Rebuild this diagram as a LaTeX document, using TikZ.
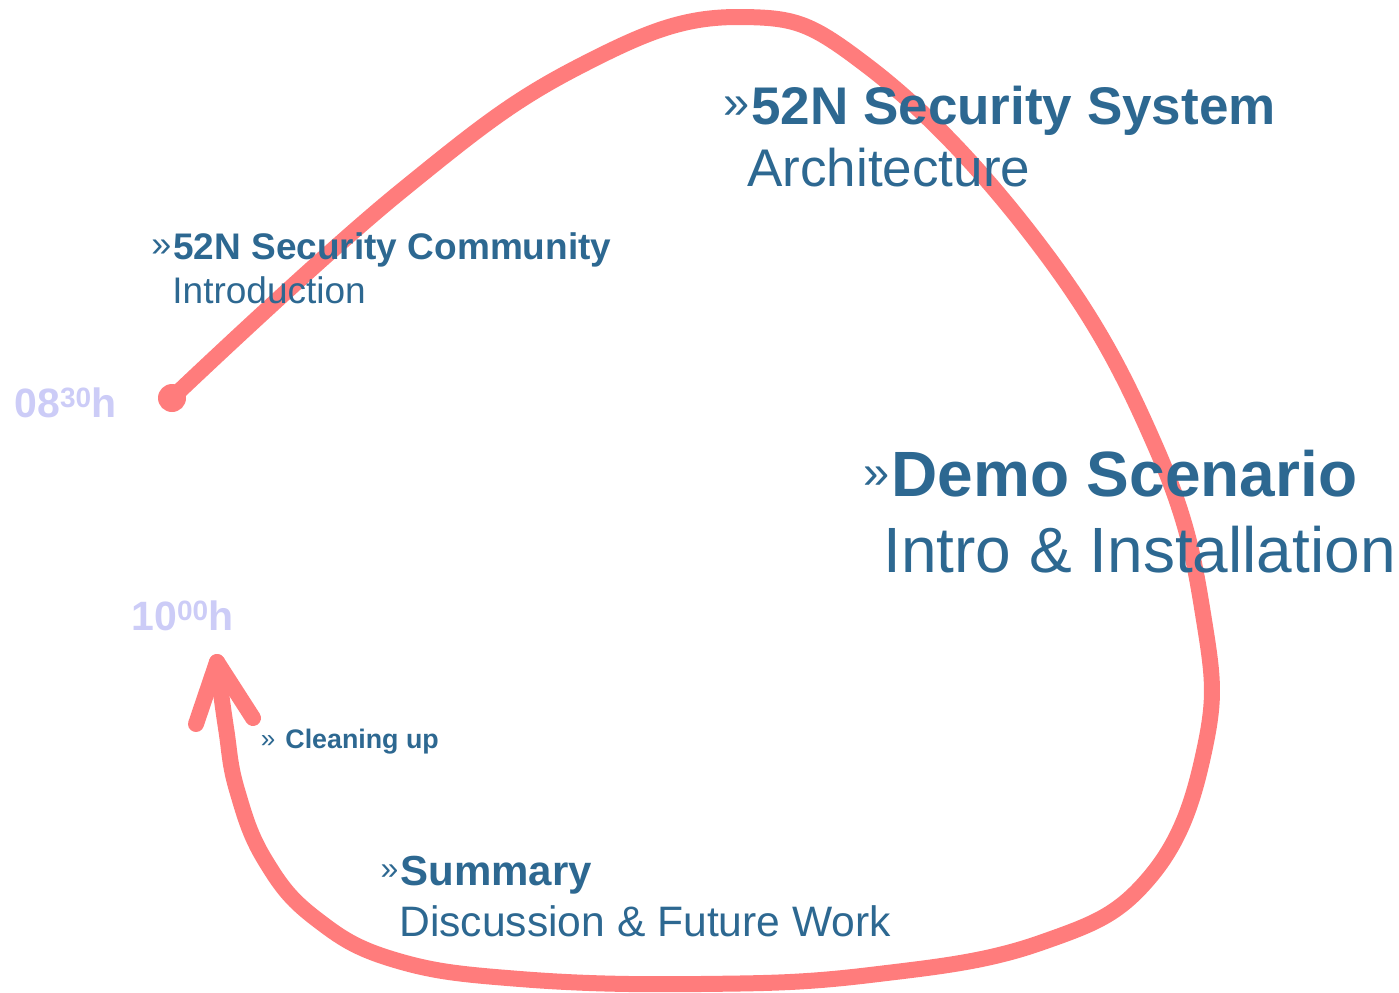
\documentclass[tikz,border=0pt]{standalone}
\usepackage{fontspec}
\setmainfont{Liberation Sans}
\definecolor{agendablue}{HTML}{2D6891}
\definecolor{timelilac}{HTML}{CCCCF7}
\definecolor{looppink}{HTML}{FF7C7C}
% chevron in front of a topic: #1 size, #2 raise
\newcommand{\chev}[2]{\llap{\raisebox{#2}{\fontsize{#1}{#1}\selectfont\mdseries »}\hspace{1pt}}}
\newcommand{\upper}[1]{\raisebox{5pt}{\fontsize{14}{14}\selectfont #1}}

\begin{document}
\begin{tikzpicture}[x=0.5pt, y=-0.5pt,
    topic/.style = {anchor=base west, inner sep=0pt, text=agendablue},
    clock/.style = {anchor=base west, inner sep=0pt, text=timelilac,
        font=\bfseries\fontsize{20.5}{24}\selectfont},
    loop/.style  = {draw=looppink, line width=8pt, line cap=round, line join=round}]
\useasboundingbox (0,0) rectangle (1399,992);

% the loop through the agenda
\coordinate (begin) at (172,398);
\coordinate (tip)   at (217,662);
\coordinate (barbl) at (196,724);
\coordinate (barbr) at (253,718);
\draw[loop] plot[smooth, tension=0.7] coordinates {
    (begin) (400,192) (580,66) (740,17) (870,68) (1043,250) (1157,450)
    (1204,620) (1205,747) (1150,877) (1040,943) (870,975) (700,984)
    (520,979) (395,960) (315,918) (265,860) (237,790) (226,728) (tip)};
\fill[looppink] (begin) circle (7pt);
\draw[loop] (barbl) -- (tip) -- (barbr);

% times
\node[clock] (start) at (14,417) {08\upper{30}h};
\node[clock] (end)   at (131,630) {10\upper{00}h};

% topics
\node[topic, font=\bfseries\fontsize{18.5}{22}\selectfont] (community) at (173,259)
    {\chev{18}{1.3pt}52N Security Community};
\node[topic, font=\fontsize{18.5}{22}\selectfont] (communitysub) at (172,303) {Introduction};

\node[topic, font=\bfseries\fontsize{26.5}{30}\selectfont] (system) at (751,124)
    {\chev{23.5}{2.7pt}52N Security System};
\node[topic, font=\fontsize{26.5}{30}\selectfont] (systemsub) at (747,186) {Architecture};

\node[topic, font=\bfseries\fontsize{32}{36}\selectfont] (demo) at (891,496)
    {\chev{23.5}{3.7pt}Demo Scenario};
\node[topic, font=\fontsize{32}{36}\selectfont] (demosub) at (883,572) {Intro \& Installation};

\node[topic, font=\bfseries\fontsize{21}{24}\selectfont] (summary) at (400,885)
    {\chev{16}{3pt}Summary};
\node[topic, font=\fontsize{21.3}{25}\selectfont] (summarysub) at (399,936) {Discussion \& Future Work};

\node[topic, font=\bfseries\fontsize{13.4}{16}\selectfont] (cleanup) at (277,748)
    {\chev{13}{0.5pt}\hspace{4pt}Cleaning up};
\end{tikzpicture}
\end{document}
